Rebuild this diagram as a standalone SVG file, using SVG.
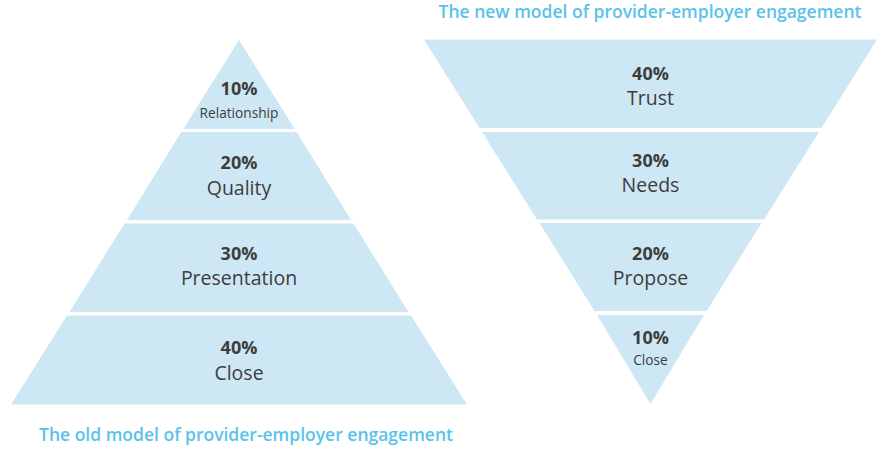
<svg xmlns="http://www.w3.org/2000/svg" width="882" height="450" viewBox="0 0 882 450">
<style>
.band{fill:#cde7f4}
.pct{font-family:"Open Sans","Noto Sans",sans-serif;font-weight:bold;font-size:18px;fill:#3d3d3d;text-anchor:middle}
.lbl{font-family:"Open Sans","Noto Sans",sans-serif;font-size:19.5px;fill:#3d3d3d;text-anchor:middle}
.sm{font-family:"Open Sans","Noto Sans",sans-serif;font-size:13.7px;fill:#3d3d3d;text-anchor:middle}
.title{font-family:"Open Sans","Noto Sans",sans-serif;font-weight:600;font-size:17.5px;fill:#5bc2ea;text-anchor:middle}
</style>
<rect width="882" height="450" fill="#ffffff"/>
<g id="old-pyramid">
<g id="old-relationship"><polygon class="band" points="239,40 294.8,129 183.2,129"/><text class="pct" x="239" y="94.5">10%</text><text class="sm" x="239" y="117.5">Relationship</text></g>
<g id="old-quality"><polygon class="band" points="181.3,132 296.7,132 351,220 127,220"/><text class="pct" x="239" y="168.5">20%</text><text class="lbl" x="239" y="195">Quality</text></g>
<g id="old-presentation"><polygon class="band" points="124.5,223.5 353.5,223.5 408.5,312 69.5,312"/><text class="pct" x="239" y="259.5">30%</text><text class="lbl" x="239" y="284.5">Presentation</text></g>
<g id="old-close"><polygon class="band" points="67,315.5 411,315.5 467,404.5 11,404.5"/><text class="pct" x="239" y="354">40%</text><text class="lbl" x="239" y="380">Close</text></g>
<text class="title" x="246" y="440.5">The old model of provider-employer engagement</text>
</g>
<g id="new-pyramid">
<text class="title" x="650" y="18">The new model of provider-employer engagement</text>
<g id="new-trust"><polygon class="band" points="424,39.5 877,39.5 821.5,128 479.5,128"/><text class="pct" x="650.5" y="79.5">40%</text><text class="lbl" x="650.5" y="105">Trust</text></g>
<g id="new-needs"><polygon class="band" points="482,132 819,132 764,219.5 537,219.5"/><text class="pct" x="650.5" y="166.5">30%</text><text class="lbl" x="650.5" y="192">Needs</text></g>
<g id="new-propose"><polygon class="band" points="539.5,223 761.5,223 706.5,311 594.5,311"/><text class="pct" x="650.5" y="259.5">20%</text><text class="lbl" x="650.5" y="285">Propose</text></g>
<g id="new-close"><polygon class="band" points="597,315 704,315 650.5,404"/><text class="pct" x="650.5" y="343.5">10%</text><text class="sm" x="650.5" y="365">Close</text></g>
</g>
<g id="connectors"/>
</svg>
